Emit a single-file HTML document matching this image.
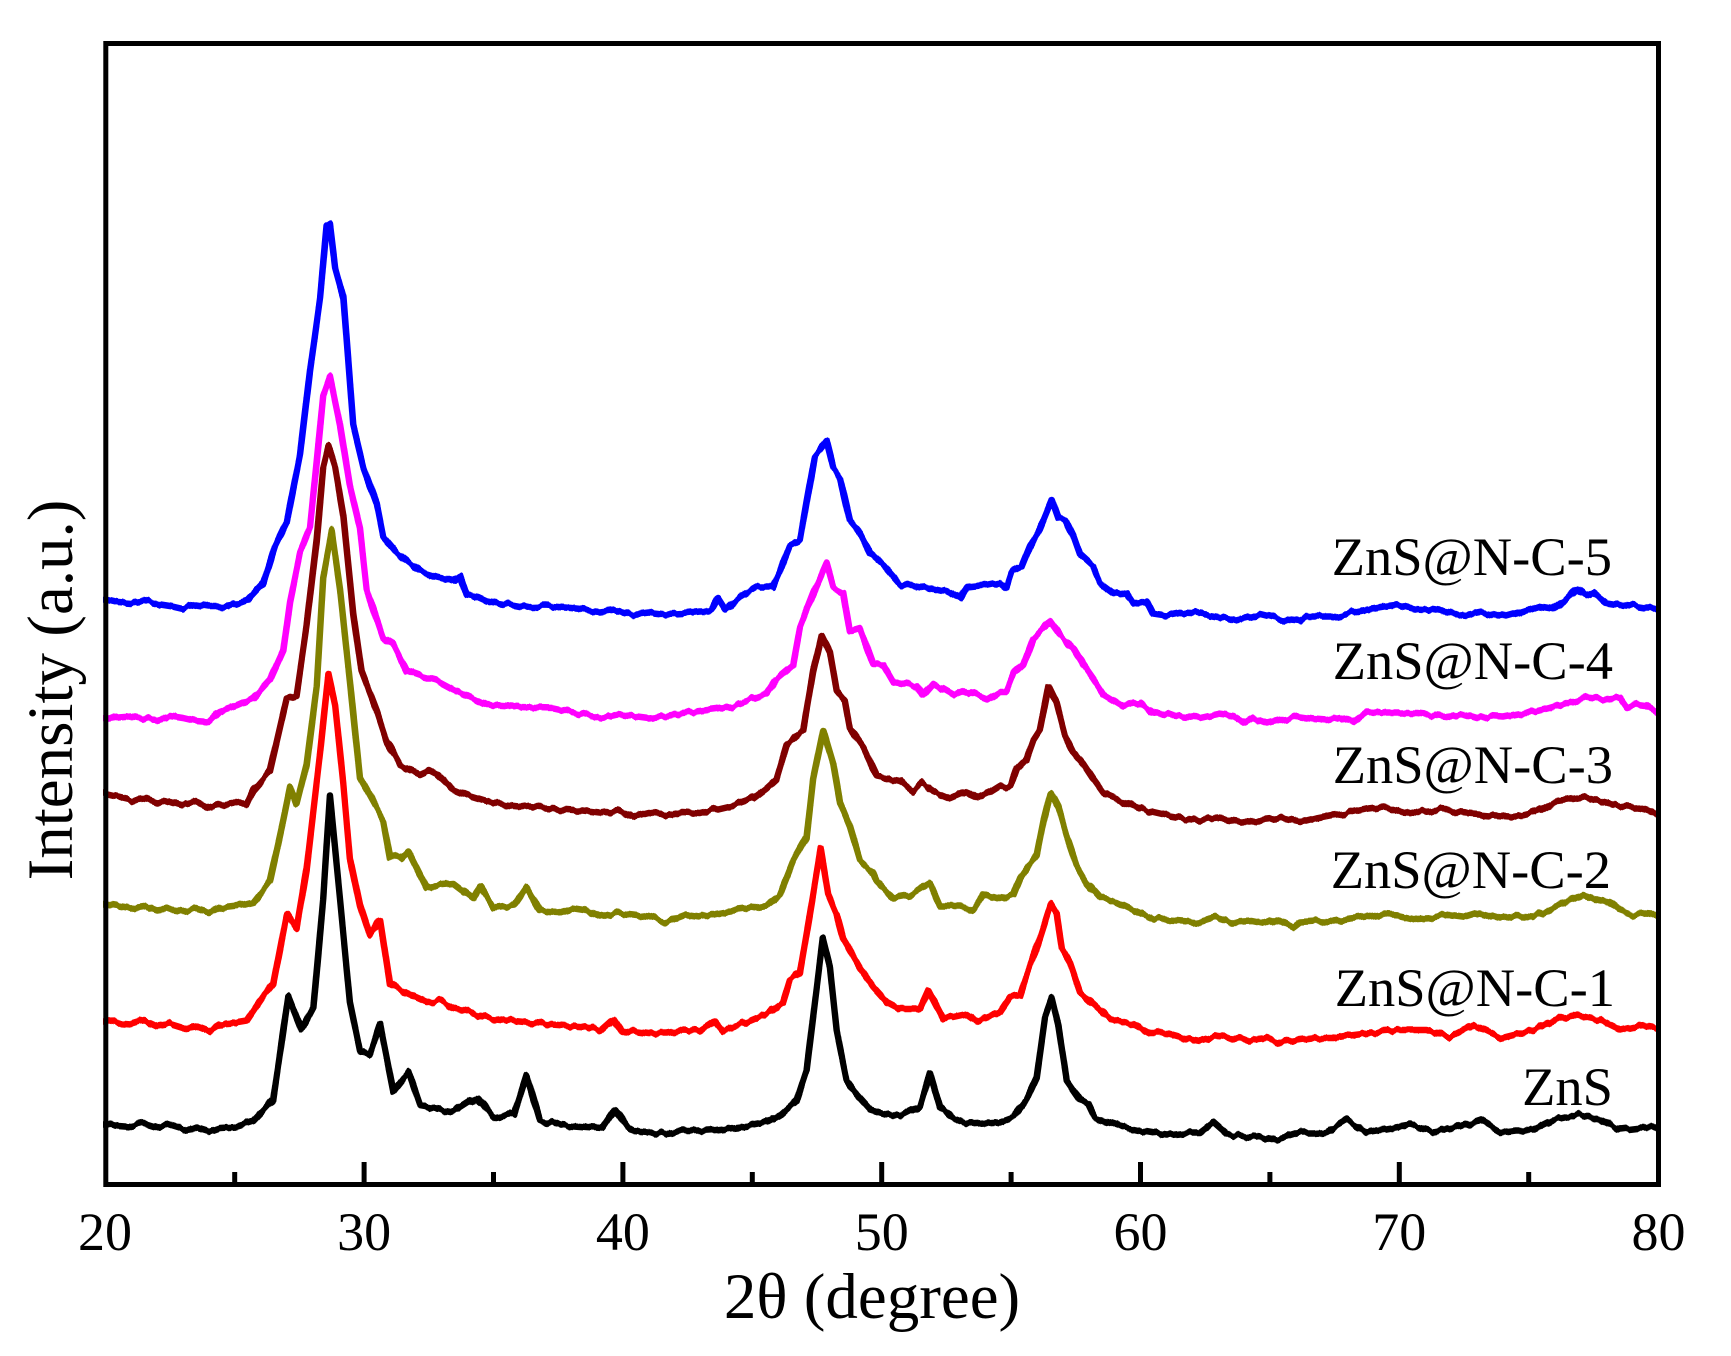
<!DOCTYPE html>
<html>
<head>
<meta charset="utf-8">
<style>
  html, body { margin: 0; padding: 0; background: #ffffff; }
  svg { display: block; }
  text { font-family: "Liberation Serif", "Times New Roman", serif; fill: #000; }
</style>
</head>
<body>
<svg width="1731" height="1356" viewBox="0 0 1731 1356" xmlns="http://www.w3.org/2000/svg">
  <rect x="0" y="0" width="1731" height="1356" fill="#ffffff"/>
  <defs>
    <clipPath id="plot">
      <rect x="103" y="41" width="1558" height="1146"/>
    </clipPath>
    <filter id="jit" x="0" y="0" width="1731" height="1356" filterUnits="userSpaceOnUse" color-interpolation-filters="sRGB">
      <feTurbulence type="fractalNoise" baseFrequency="0.11 0.004" numOctaves="2" seed="7" result="noise"/>
      <feColorMatrix in="noise" type="matrix" values="0 0 0 0 0.5  0 1 0 0 0  0 0 0 0 0  0 0 0 0 1" result="map"/>
      <feDisplacementMap in="SourceGraphic" in2="map" scale="7" xChannelSelector="R" yChannelSelector="G"/>
    </filter>
  </defs>

  <g clip-path="url(#plot)">
   <g filter="url(#jit)">
    <g transform="matrix(25.88 0 0 1 -412.3 0)" fill="none" stroke-linejoin="round" stroke-linecap="round">
      <!-- Blue ZnS@N-C-5 -->
      <polyline vector-effect="non-scaling-stroke" stroke="#0000ff" stroke-width="6.5" points="19.8,599 20,599 20.5,602 21,603 21.5,601 22,604 22.5,606 23,609 23.5,605 24,607 24.43,607 25.08,604 25.5,600 26.11,583 26.56,546 27.01,522 27.52,455 27.91,370 28.3,297 28.55,227 28.68,224 28.88,267 29.2,297 29.58,425 29.97,467 30.49,504 30.74,537 31.26,553 31.7,562 32.16,571 32.8,576 33.45,580 33.7,575 33.96,595 34.4,597 34.74,601 35.4,604 36.02,607 37,606 38,608 39.11,611 39.7,609 40.4,614 41.0,612 41.69,614 42.3,613 42.97,611 43.4,611 43.68,598 43.95,609 44.5,597 45.16,587 45.8,587 46.06,572 46.45,546 46.84,541 47.1,502 47.42,456 47.6,450 47.87,441 48.13,468 48.39,478 48.77,521 49.16,533 49.55,553 50.07,565 50.71,584 51.3,586 52.0,589 52.5,592 53.03,599 53.29,587 54.0,585 54.58,582 54.83,587 55.02,572 55.4,567 55.73,546 56.11,529 56.57,500 56.83,519 57.08,519 57.4,536 57.66,555 58.17,567 58.43,582 58.95,592 59.46,594 59.72,604 60.24,601 60.49,614 61.01,616 61.6,613 62.3,614 63.0,617 63.59,621 64.1,618 64.62,614 65.4,619 66.17,621 66.4,617 67.4,617 68.1,613 68.7,610 69.4,607 70,605 70.6,609 71.3,610 72.0,613 72.6,615 73.2,612 73.9,617 74.6,612 75.2,607 75.9,610 76.4,600 76.85,588 77.2,595 77.5,592 78.0,602 78.5,604 79.0,605 79.5,607 80,607 80.2,607"/>
      <!-- Magenta ZnS@N-C-4 -->
      <polyline vector-effect="non-scaling-stroke" stroke="#ff00ff" stroke-width="6.5" points="19.8,719 20,719 20.5,717 21,716 21.5,719 22,720 22.5,716 23,718 23.5,721 24,722 24.43,711 25.1,705 25.72,698 26.36,680 26.88,650 27.14,601 27.52,553 27.91,528 28.17,461 28.42,395 28.68,376 29.07,425 29.45,486 29.84,528 30.1,589 30.49,619 30.74,638 31.13,644 31.65,671 32.2,676 32.8,680 33.45,689 34.1,697 34.74,705 36,707 37.31,708 38.2,713 39.11,718 39.8,714 40.4,716 41.0,718 41.69,716 42.3,713 42.97,711 43.6,709 44.26,706 44.9,700 45.55,694 45.93,679 46.58,665 46.84,628 47.35,594 47.87,563 48.13,587 48.51,592 48.77,631 49.16,628 49.68,665 50.07,665 50.45,682 51.35,686 51.6,696 52.0,684 52.8,696 53.29,691 54.07,699 54.57,691 54.83,691 55.09,674 55.47,665 55.86,638 56.5,621 56.89,635 57.4,648 57.79,665 58.17,679 58.56,694 59.33,706 59.97,703 60.49,713 61.4,716 62.3,718 63.0,714 63.59,716 64.04,723 64.36,718 64.88,723 65.5,719 66.16,717 66.7,719 67.2,720 67.7,717 68.2,722 68.74,712 69.5,713 70.7,713 71.3,715 72,717 72.5,714 73,718 73.5,716 74,717 74.6,714 75.18,712 75.8,708 76.46,703 76.9,700 77.24,697 77.9,699 78.53,697 78.8,707 79.2,704 79.5,705 80,713 80.2,713"/>
      <!-- Maroon ZnS@N-C-3 -->
      <polyline vector-effect="non-scaling-stroke" stroke="#800000" stroke-width="6.5" points="19.8,794 20,794 20.5,797 21,800 21.5,798 22,803 22.5,801 23,805 23.5,802 24,808 24.43,805 24.9,803 25.46,805 25.72,790 26.36,771 27.01,698 27.39,695 27.78,626 28.17,540 28.42,467 28.62,446 28.88,467 29.2,516 29.58,613 29.9,671 30.49,711 30.87,741 31.39,765 32.16,774 32.5,770 32.8,774 33.45,790 34.1,797 34.74,802 35.8,805 37,808 38.1,810 39.11,813 39.8,810 40.4,817 41.0,813 41.69,815 42.3,812 42.97,813 43.6,809 44.26,805 45.04,798 45.55,788 45.93,779 46.32,745 46.97,730 47.35,672 47.68,635 48.0,652 48.26,691 48.58,701 48.77,728 49.29,747 49.81,776 50.71,781 51.22,791 51.54,783 51.99,791 52.65,798 53.29,791 53.68,798 54.2,792 54.57,786 54.96,788 55.22,769 55.6,759 55.86,740 56.11,730 56.44,686 56.76,703 57.08,735 57.4,752 57.79,764 58.17,779 58.56,793 59.2,800 59.97,808 60.5,812 61.01,815 61.7,818 62.3,820 63.0,818 63.59,820 64.2,822 64.88,820 65.5,818 66.17,822 66.8,818 67.4,815 68.1,813 68.8,809 69.4,807 70.0,811 70.7,812 71.6,810 72.6,813 73.5,815 74.5,817 75.0,814 75.4,810 75.95,802 76.5,800 77.1,797 77.7,801 78.3,805 79,807 79.5,810 80,815 80.2,815"/>
      <!-- Olive ZnS@N-C-2 -->
      <polyline vector-effect="non-scaling-stroke" stroke="#808000" stroke-width="6.5" points="19.8,904 20,904 20.5,906 21,908 21.5,906 22,911 22.5,909 23,911 23.5,909 24,913 24.43,908 25.1,906 25.72,902 26.36,881 26.88,820 27.14,787 27.39,805 27.78,765 28.17,686 28.42,577 28.75,531 29.07,589 29.45,680 29.84,778 30.23,796 30.74,820 31.0,857 31.4,858 31.71,850 31.9,860 32.42,887 33.0,885 33.45,884 34.22,899 34.48,887 34.99,908 35.8,905 36.28,887 36.8,911 37.5,912 38.0,908 38.5,910 39.11,917 39.7,913 40.4,915 41.0,917 41.69,922 42.4,915 42.97,917 43.6,913 44.26,910 44.9,908 45.55,905 46.06,895 46.58,861 47.1,837 47.35,779 47.74,730 48.13,764 48.39,803 48.77,827 49.16,861 49.68,873 49.81,881 50.45,898 51.1,895 51.87,883 52.25,906 53.03,906 53.55,910 53.93,895 54.57,900 55.09,895 55.35,878 55.67,866 55.99,856 56.25,822 56.53,793 56.83,808 57.15,837 57.53,866 57.92,883 58.43,898 59.07,902 59.72,910 60.5,919 61.4,920 62.3,922 62.94,917 63.59,922 64.3,921 64.88,924 65.27,919 65.91,927 66.16,922 66.8,921 67.45,922 68.1,919 68.74,917 69.4,914 70.02,915 70.7,919 71.31,918 72.0,914 72.6,916 73.1,912 73.89,918 74.5,916 75.18,917 75.95,908 76.7,900 77.1,895 77.7,900 78.1,902 78.5,910 79.04,915 79.5,914 80,915 80.2,915"/>
      <!-- Red ZnS@N-C-1 -->
      <polyline vector-effect="non-scaling-stroke" stroke="#ff0000" stroke-width="6.5" points="19.8,1020 20,1020 20.5,1023 21,1024 21.5,1020 22,1026 22.5,1024 23,1028 23.5,1026 24,1031 24.43,1024 25.0,1023 25.46,1021 26.11,996 26.49,984 27.01,914 27.39,929 27.78,869 28.3,753 28.62,674 28.88,705 29.2,784 29.45,857 29.84,905 30.23,936 30.62,920 31.0,984 31.65,993 32.42,1002 33.0,1001 33.45,1008 34.1,1012 34.74,1018 35.8,1021 37,1024 38.0,1026 38.6,1027 39.11,1031 39.63,1019 40.0,1033 40.4,1031 41.0,1033 41.69,1033 42.3,1030 42.97,1031 43.55,1021 43.87,1031 44.4,1026 44.9,1021 45.55,1014 46.19,1002 46.45,980 46.84,973 47.22,915 47.64,849 47.93,895 48.26,915 48.51,939 49.16,968 49.68,987 50.2,1002 50.71,1009 51.48,1009 51.81,990 52.39,1019 53.29,1014 53.68,1021 54.57,1012 54.96,997 55.35,995 55.6,975 56.11,939 56.53,905 56.76,915 56.96,949 57.28,963 57.66,992 58.3,1007 58.82,1019 59.72,1024 60.36,1033 61.01,1033 61.7,1038 62.3,1041 63.0,1036 63.59,1038 64.2,1040 64.88,1038 65.4,1043 66.16,1040 66.8,1038 67.45,1038 68.1,1035 68.74,1033 69.4,1031 70.02,1030 71.05,1030 71.95,1037 72.86,1025 73.89,1038 74.5,1034 75.18,1030 76.2,1018 76.72,1015 77.2,1017 77.75,1020 78.53,1030 79.04,1027 79.5,1026 80,1028 80.2,1028"/>
      <!-- Black ZnS -->
      <polyline vector-effect="non-scaling-stroke" stroke="#000000" stroke-width="6.5" points="19.8,1123 20,1123 20.5,1125 21,1126 21.5,1123 22,1127 22.5,1125 23,1129 23.5,1127 24,1131 24.43,1127 25.1,1126 25.72,1121 26.49,1100 27.07,996 27.59,1030 28.04,1008 28.42,899 28.68,796 29.07,899 29.45,1002 29.84,1051 30.23,1054 30.62,1024 31.13,1091 31.71,1072 32.16,1106 32.8,1109 33.45,1112 34.35,1097 34.99,1118 35.8,1114 36.28,1075 36.8,1121 37.6,1125 38.6,1127 39.2,1128 39.69,1109 40.2,1128 40.4,1131 41.0,1132 41.69,1133 42.3,1131 42.97,1131 43.6,1130 44.26,1128 44.9,1126 45.55,1123 46.06,1116 46.71,1101 47.1,1070 47.42,1002 47.72,939 48.0,968 48.26,1031 48.64,1080 49.03,1094 49.55,1109 50.2,1114 50.71,1116 51.48,1106 51.87,1072 52.25,1106 52.77,1118 53.29,1123 54.0,1122 54.57,1121 55.09,1116 55.6,1099 55.99,1077 56.31,1017 56.57,998 56.83,1026 57.15,1080 57.66,1099 57.98,1104 58.24,1118 59.2,1126 60.1,1131 61.01,1135 61.7,1133 62.3,1133 62.8,1123 63.33,1135 64.1,1136 64.88,1138 65.27,1140 66.16,1133 66.7,1133 67.2,1132 67.97,1120 68.74,1132 69.5,1129 70.42,1125 71.31,1132 72.2,1128 73.1,1120 73.89,1132 74.5,1130 75.18,1130 75.95,1120 76.85,1115 77.3,1118 77.75,1120 78.53,1130 79.2,1128 80,1128 80.2,1128"/>
    </g>
   </g>
  </g>

  <!-- Frame -->
  <rect x="105.8" y="43.5" width="1552.7" height="1141" fill="none" stroke="#000" stroke-width="5"/>

  <!-- Ticks -->
  <g stroke="#000" stroke-width="5">
    <line x1="364.1" y1="1184" x2="364.1" y2="1162"/>
    <line x1="622.9" y1="1184" x2="622.9" y2="1162"/>
    <line x1="881.7" y1="1184" x2="881.7" y2="1162"/>
    <line x1="1140.5" y1="1184" x2="1140.5" y2="1162"/>
    <line x1="1399.3" y1="1184" x2="1399.3" y2="1162"/>
    <line x1="234.7" y1="1184" x2="234.7" y2="1172"/>
    <line x1="493.5" y1="1184" x2="493.5" y2="1172"/>
    <line x1="752.3" y1="1184" x2="752.3" y2="1172"/>
    <line x1="1011.1" y1="1184" x2="1011.1" y2="1172"/>
    <line x1="1269.9" y1="1184" x2="1269.9" y2="1172"/>
    <line x1="1528.7" y1="1184" x2="1528.7" y2="1172"/>
  </g>

  <!-- Tick labels -->
  <g font-size="54" text-anchor="middle">
    <text x="105" y="1250">20</text>
    <text x="364.1" y="1250">30</text>
    <text x="622.9" y="1250">40</text>
    <text x="881.7" y="1250">50</text>
    <text x="1140.5" y="1250">60</text>
    <text x="1399.3" y="1250">70</text>
    <text x="1658.5" y="1250">80</text>
  </g>

  <!-- Axis labels -->
  <text x="872" y="1318" font-size="65" text-anchor="middle">2θ (degree)</text>
  <text transform="translate(72,690) rotate(-90)" font-size="65" text-anchor="middle">Intensity (a.u.)</text>

  <!-- Series labels -->
  <g font-size="54.5" text-anchor="end">
    <text x="1612" y="575">ZnS@N-C-5</text>
    <text x="1613" y="679">ZnS@N-C-4</text>
    <text x="1613" y="783">ZnS@N-C-3</text>
    <text x="1611" y="888">ZnS@N-C-2</text>
    <text x="1615" y="1006">ZnS@N-C-1</text>
    <text x="1613" y="1105">ZnS</text>
  </g>
</svg>
</body>
</html>
